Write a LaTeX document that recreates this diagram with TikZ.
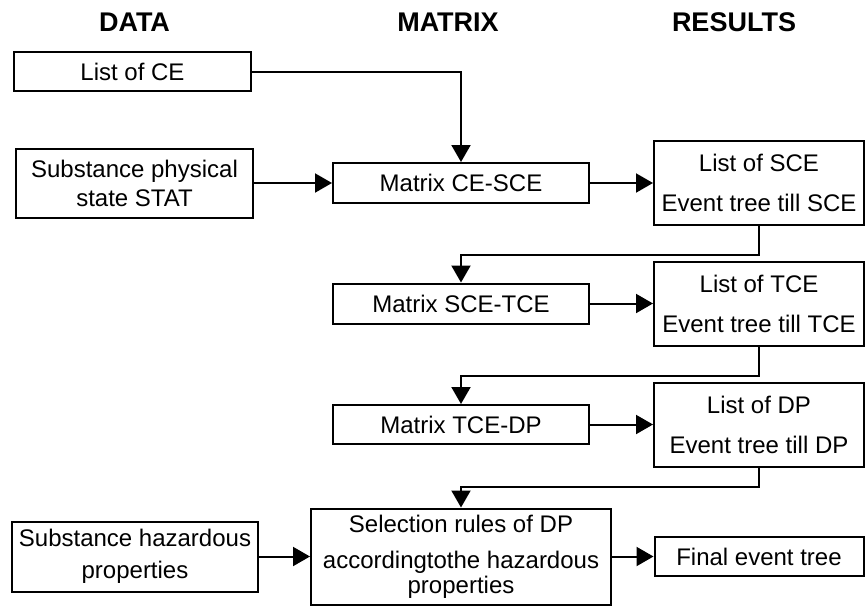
\documentclass[tikz,border=0pt]{standalone}
\usepackage{fontspec}
\setmainfont{Liberation Sans}
\usetikzlibrary{arrows.meta}
\begin{document}
\begin{tikzpicture}[x=1pt,y=-1pt,
  box/.style={draw=black, line width=2pt, rectangle, inner sep=0pt, align=center,
    font=\fontsize{24}{29}\selectfont, fill=white},
  head/.style={font=\fontsize{27}{30}\selectfont\bfseries, inner sep=0pt},
  flow/.style={line width=2pt, -{Triangle[length=17pt,width=19pt]}}]
\useasboundingbox (0,0) rectangle (868,606);

% column headings
\node[head] (hd) at (134.5,22) {DATA};
\node[head] (hm) at (448,22) {MATRIX};
\node[head] (hr) at (734,22) {RESULTS};

% data column
\node[box, minimum width=237pt, minimum height=39pt] (ce) at (132.5,71.5) {List of CE};
\node[box, minimum width=237pt, minimum height=69pt] (stat) at (134.5,183) {Substance physical\\state STAT};
\node[box, minimum width=246pt, minimum height=70pt, font=\fontsize{24}{32}\selectfont] (haz) at (135,556.5) {Substance hazardous\\properties};

% matrix column
\node[box, minimum width=256pt, minimum height=40pt] (m1) at (461,183) {Matrix CE-SCE};
\node[box, minimum width=256pt, minimum height=40pt] (m2) at (461,303.5) {Matrix SCE-TCE};
\node[box, minimum width=256pt, minimum height=39pt] (m3) at (461,424.5) {Matrix TCE-DP};
\node[box, minimum width=300pt, minimum height=96pt, font=\fontsize{24}{25}\selectfont] (sel) at (461,556.5)
  {Selection rules of DP\\[11pt]accordingtothe hazardous\\properties};

% results column
\node[box, minimum width=210pt, minimum height=84pt, font=\fontsize{24}{40}\selectfont] (r1) at (759,183) {List of SCE\\Event tree till SCE};
\node[box, minimum width=210pt, minimum height=84pt, font=\fontsize{24}{40}\selectfont] (r2) at (759,303.5) {List of TCE\\Event tree till TCE};
\node[box, minimum width=210pt, minimum height=84pt, font=\fontsize{24}{40}\selectfont] (r3) at (759,424.5) {List of DP\\Event tree till DP};
\node[box, minimum width=209pt, minimum height=39pt] (fin) at (759,556.5) {Final event tree};

% bends of the return connectors
\coordinate (k1) at (759,255);
\coordinate (k2) at (759,376);
\coordinate (k3) at (759,487);

% connectors
\draw[flow] (ce.east) -| (m1.north);
\draw[flow] (stat.east) -- (m1.west);
\draw[flow] (m1.east) -- (r1.west);
\draw[flow] (r1.south) -- (k1) -| (m2.north);
\draw[flow] (m2.east) -- (r2.west);
\draw[flow] (r2.south) -- (k2) -| (m3.north);
\draw[flow] (m3.east) -- (r3.west);
\draw[flow] (r3.south) -- (k3) -| (sel.north);
\draw[flow] (haz.east) -- (sel.west);
\draw[flow] (sel.east) -- (fin.west);
\end{tikzpicture}
\end{document}
